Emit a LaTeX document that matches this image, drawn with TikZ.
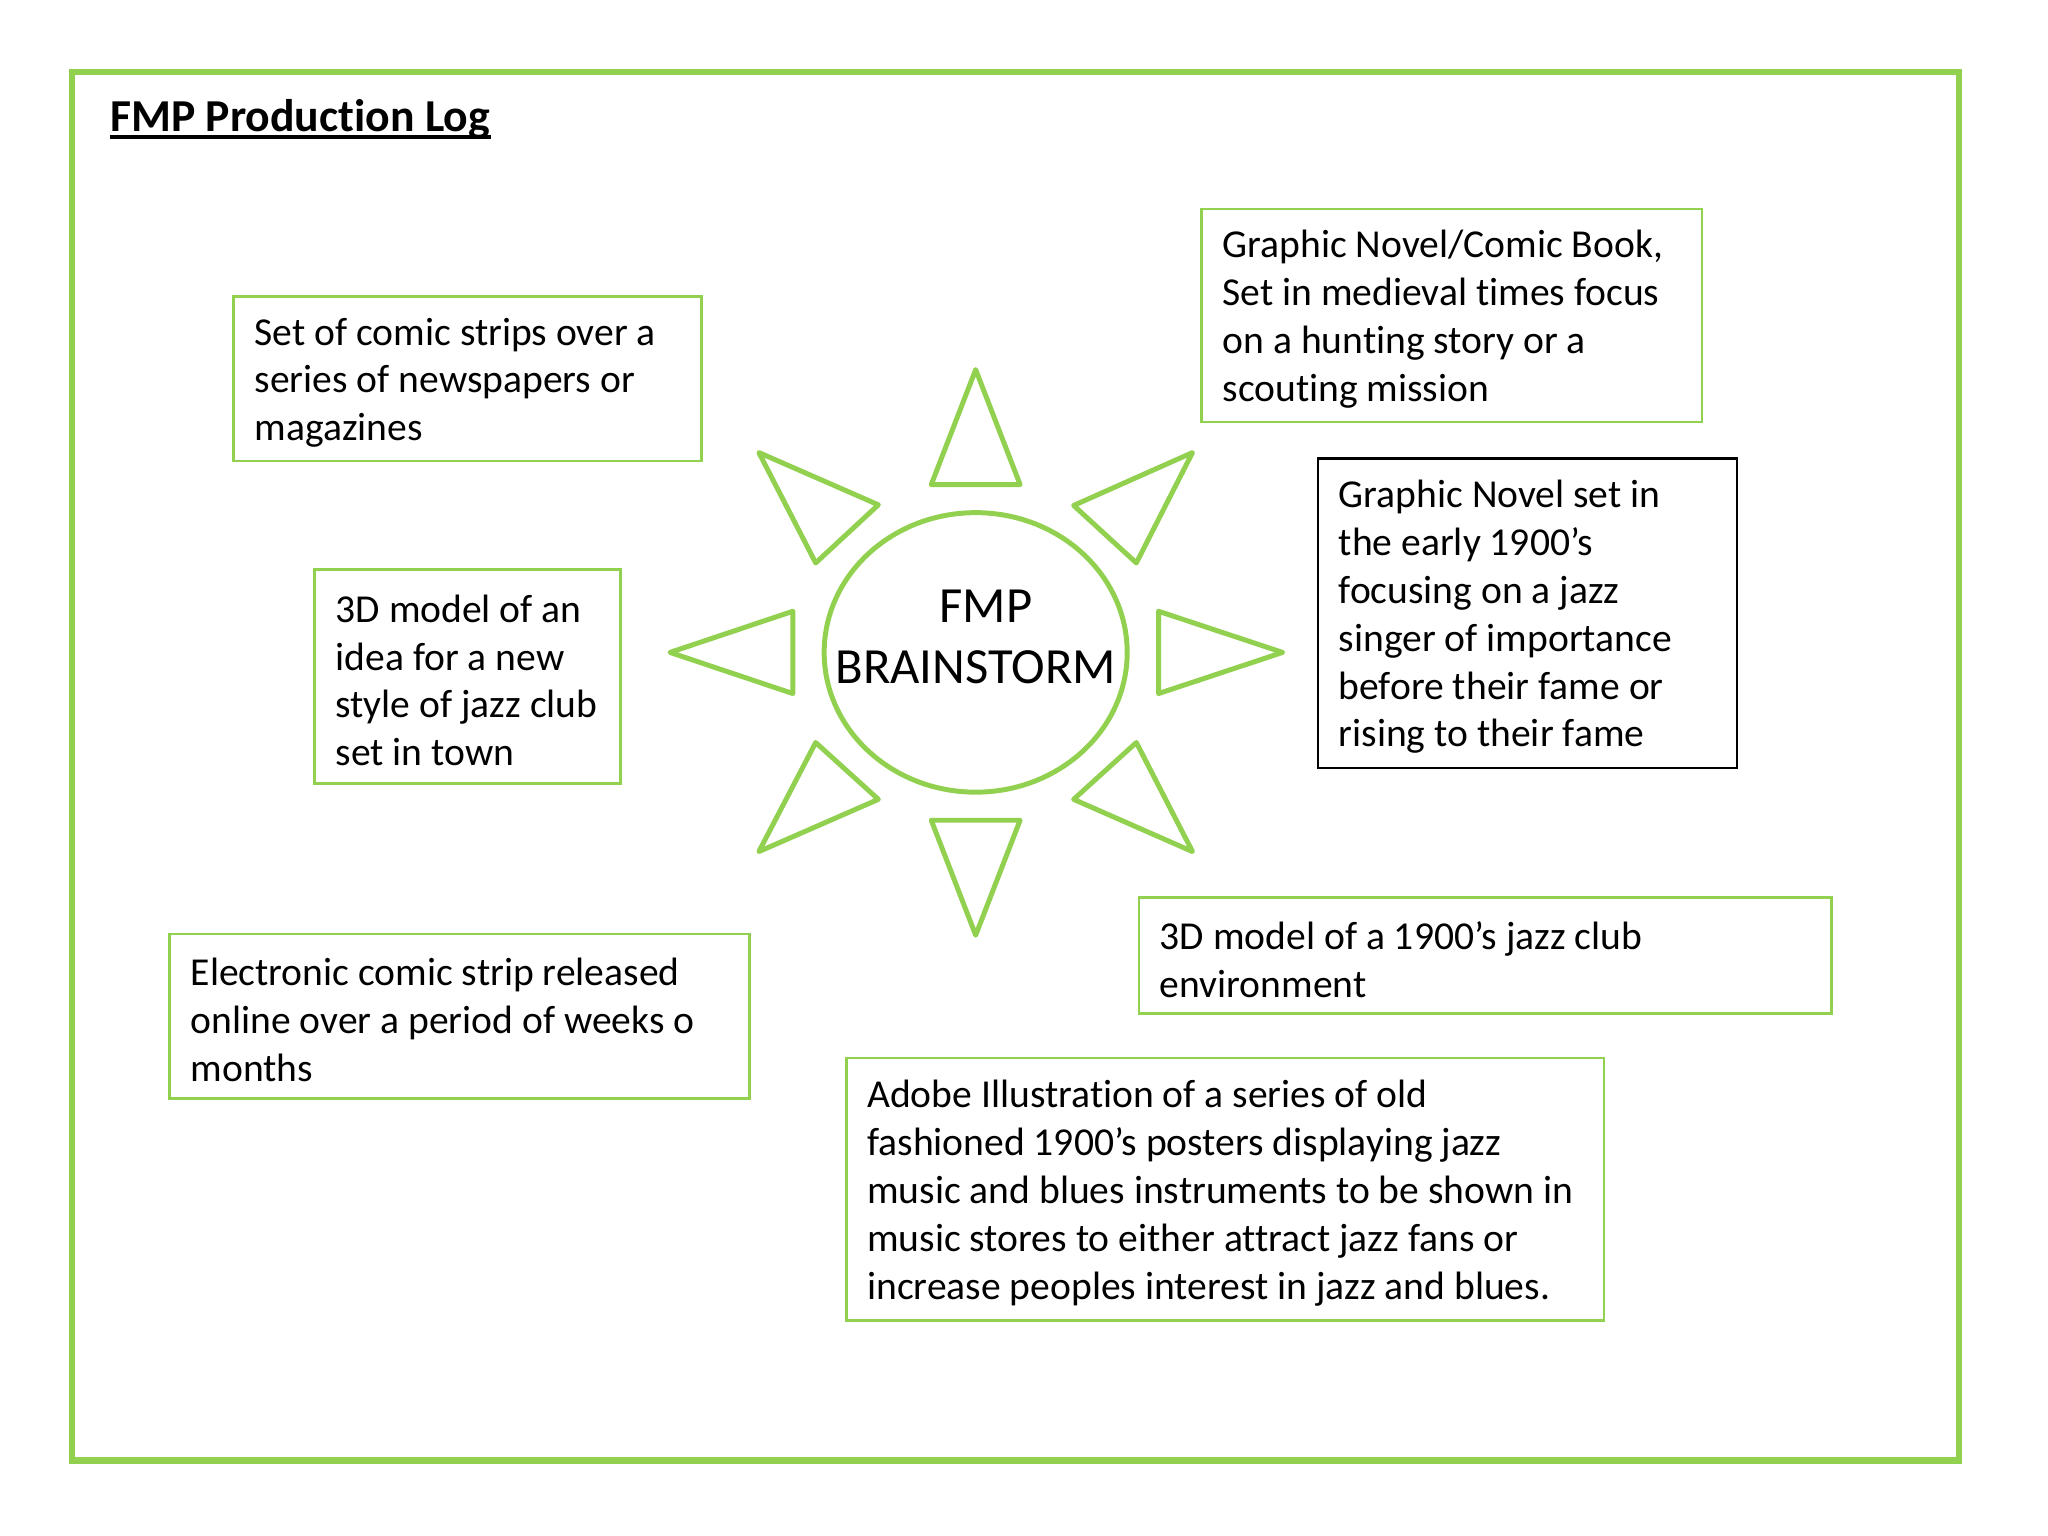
\documentclass[tikz,border=0pt]{standalone}
\usepackage{fontspec}
\setmainfont{Carlito}[Ligatures={NoCommon}]
\definecolor{fmpgreen}{HTML}{92D050}
\begin{document}
\begin{tikzpicture}[x=0.5pt,y=-0.5pt,
  box/.style={draw=fmpgreen,line width=1pt,inner sep=0pt,anchor=center},
  boxtext/.style={align=left,inner sep=0pt,anchor=west,
    font=\fontsize{15.15}{18.3}\selectfont},
  ray/.style={draw=fmpgreen,line width=1.9pt,line join=round},
  frame/.style={draw=fmpgreen,line width=2.5pt},
]
\useasboundingbox[fill=white] (0,0) rectangle (1568,1176);
\draw[frame] (55,55) rectangle (1500,1118);

\node[anchor=base west,inner sep=0pt,font=\fontsize{17.5}{21}\selectfont\bfseries] (title) at (84,101) {FMP Production Log};
\draw[line width=1.6pt] ([yshift=-2pt]title.base west) -- ([yshift=-2pt]title.base east);

% centre
\draw[ray] (747,499.5) ellipse [x radius=116, y radius=107];
\node[align=center,inner sep=0pt,font=\fontsize{19.4}{23.5}\selectfont] (centre) at (747,487.5) {\hspace*{8pt}FMP\\BRAINSTORM};

% rays
\draw[ray] (747,283) -- (713,371) -- (781,371) -- cycle;
\draw[ray] (747,716) -- (713,628) -- (781,628) -- cycle;
\draw[ray] (513,499.5) -- (607,468) -- (607,531) -- cycle;
\draw[ray] (982,499.5) -- (887,468) -- (887,531) -- cycle;
\draw[ray] (581,346.5) -- (672.5,386.5) -- (624.5,431) -- cycle;
\draw[ray] (913,346.5) -- (822,387) -- (870,431) -- cycle;
\draw[ray] (581,652) -- (672.5,612) -- (624.5,568.5) -- cycle;
\draw[ray] (913,652) -- (822,612) -- (870,568.5) -- cycle;

% boxes
\node[box,minimum width=179pt,minimum height=63pt] (b1) at (358,290) {};
\node[boxtext] (b1t) at ([xshift=8.3pt,yshift=-1.5pt]b1.west)
  {Set of comic strips over a\\series of newspapers or\\magazines};

\node[box,minimum width=191.5pt,minimum height=81.5pt] (b2) at (1111.5,241.5) {};
\node[boxtext] (b2t) at ([xshift=8.3pt,yshift=-1.5pt]b2.west)
  {Graphic Novel/Comic Book,\\Set in medieval times focus\\on a hunting story or a\\scouting mission};

\node[box,draw=black,minimum width=160.5pt,minimum height=118.5pt] (b3) at (1169.5,469.5) {};
\node[boxtext] (b3t) at ([xshift=8.3pt,yshift=-1.5pt]b3.west)
  {Graphic Novel set in\\the early 1900’s\\focusing on a jazz\\singer of importance\\before their fame or\\rising to their fame};

\node[box,minimum width=117pt,minimum height=82pt] (b4) at (358,518) {};
\node[boxtext] (b4t) at ([xshift=8.3pt,yshift=-1.5pt]b4.west)
  {3D model of an\\idea for a new\\style of jazz club\\set in town};

\node[box,minimum width=222pt,minimum height=63pt] (b5) at (352,778) {};
\node[boxtext] (b5t) at ([xshift=8.3pt,yshift=-1.5pt]b5.west)
  {Electronic comic strip released\\online over a period of weeks o\\months};

\node[box,minimum width=265pt,minimum height=44.5pt] (b6) at (1137,731.5) {};
\node[boxtext] (b6t) at ([xshift=8.3pt,yshift=-1.5pt]b6.west)
  {3D model of a 1900’s jazz club\\environment};

\node[box,minimum width=290pt,minimum height=100.5pt] (b7) at (938,910.5) {};
\node[boxtext] (b7t) at ([xshift=8.3pt,yshift=-1.5pt]b7.west)
  {Adobe Illustration of a series of old\\fashioned 1900’s posters displaying jazz\\music and blues instruments to be shown in\\music stores to either attract jazz fans or\\increase peoples interest in jazz and blues.};
\end{tikzpicture}
\end{document}
